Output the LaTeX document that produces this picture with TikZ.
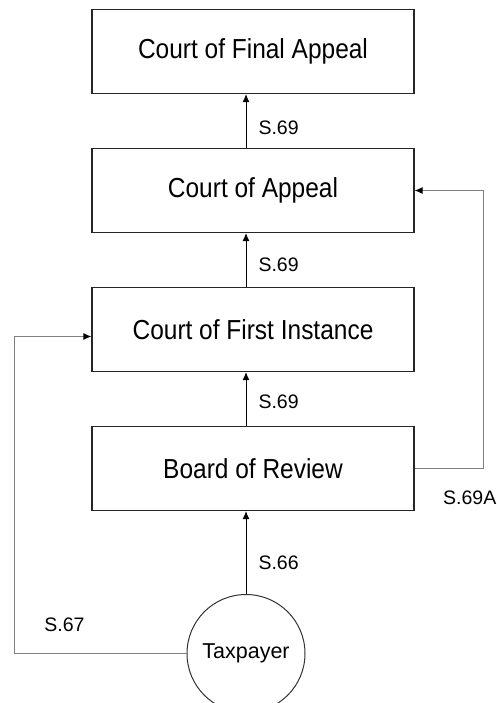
\documentclass[tikz,border=0pt]{standalone}
\usepackage{fontspec}
\setmainfont{Liberation Sans}
\newfontfamily\courtfont{Liberation Sans}[FakeStretch=0.89]
\usetikzlibrary{arrows.meta}

\begin{document}
\begin{tikzpicture}[x=1pt, y=1pt, node distance=139pt,
  court/.style={draw=black!85, line width=1.1pt, minimum width=322pt, minimum height=84pt, font=\courtfont\fontsize{27.5}{32}\selectfont},
  party/.style={draw=black!80, line width=1pt, circle, minimum size=118pt, inner sep=0pt, font=\fontsize{21.5}{26}\selectfont},
  sec/.style={inner sep=0pt, font=\fontsize{19.5}{23}\selectfont},
  up/.style={-{Latex[length=8pt,width=7pt]}, line width=1pt},
  side/.style={-{Latex[length=8pt,width=7pt,color=black]}, draw=gray, line width=1.1pt}]
  \useasboundingbox (0,0) rectangle (496,-703);
  \node[court] (cfa) at (253,-51.5) {Court of Final Appeal};
  \node[court] (ca) [below of=cfa] {Court of Appeal};
  \node[court] (cfi) [below of=ca] {Court of First Instance};
  \node[court] (bor) [below of=cfi] {Board of Review};
  \node[party] (tax) [below of=bor, node distance=185pt, xshift=-7pt] {Taxpayer};
  \draw[up] (tax) -- (tax |- bor.south) node[sec, pos=0.38, right=12pt] (s66) {S.66};
  \draw[up] (bor.north -| tax) -- (cfi.south -| tax) node[sec, pos=0.44, right=12pt] (s69c) {S.69};
  \draw[up] (cfi.north -| tax) -- (ca.south -| tax) node[sec, pos=0.41, right=12pt] (s69b) {S.69};
  \draw[up] (ca.north -| tax) -- (cfa.south -| tax) node[sec, pos=0.38, right=12pt] (s69a) {S.69};
  \draw[side] (bor.east) -- ++(69,0) node[sec, pos=0.8, below=22pt] (s69A) {S.69A} |- (ca.east);
  \draw[side] (tax.west) -- ++(-172,0) node[sec, pos=0.71, above=21pt] (s67) {S.67} |- ([yshift=-7pt]cfi.west);
\end{tikzpicture}
\end{document}
